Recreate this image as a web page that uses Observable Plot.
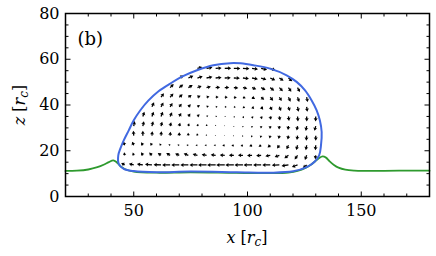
<!DOCTYPE html>
<html><head><meta charset="utf-8">
<script src="https://cdn.jsdelivr.net/npm/d3@7"></script>
<script src="https://cdn.jsdelivr.net/npm/@observablehq/plot@0.6"></script>
<style>body{margin:0;background:#fff} svg{display:block}</style>
</head><body><div id="chart"></div>
<script>
// Droplet outline (blue), closed curve
const outlineX = [43.4,43.2,44.1,45.6,47.8,50.0,52.9,56.5,60.9,66.1,71.9,77.8,85.0,92.4,97.0,102.6,109.9,117.2,121.6,125.3,128.2,130.4,131.8,132.6,132.3,131.5,129.6,126.0,120.1,109.9,95.3,74.8,60.2,50.0,45.6];
const outlineY = [14.3,18.0,20.9,24.5,28.9,33.3,37.7,42.0,46.0,49.4,52.7,55.2,57.4,58.3,58.2,57.4,55.9,53.0,50.1,46.4,42.0,37.7,33.3,28.2,22.3,18.0,15.3,12.8,11.0,10.4,10.6,10.9,10.6,11.1,12.1];
// Substrate profile (green)
const substrateX = [20,25,30,34,37,39,41,42.5,44,46,50,60,75,95,110,118,122,125.5,128,130,131.5,133,134.5,136,138,140,143,147,152,160,170,180];
const substrateY = [11.2,11.3,11.8,12.8,14.0,15.0,15.8,15.0,13.4,12.0,10.9,10.4,10.6,10.3,10.2,10.5,11.2,12.5,14.0,15.6,16.8,17.5,17.0,15.5,13.8,12.6,11.7,11.3,11.2,11.2,11.3,11.3];
// Velocity field grid
const colX = [46,50,54,58,62,66,70,74,78,82,86,90,94,98,102,106,110,114,118,122,126,130];
const rowY = [13.8,18.0,22.4,26.6,30.8,35.0,39.2,43.4,47.6,51.8,56.0];
const rowStart = [0,0,0,1,1,2,3,4,5,6,8];
// arrow direction (deg, counter-clockwise from +x) per row
const arrowAngles = [
  [150,165,172,175,178,180,180,180,180,180,180,180,180,180,180,180,180,182,188,200,220],
  [100,110,120,135,145,150,155,160,165,170,172,175,178,180,182,185,190,200,215,235,250,262],
  [110,115,120,125,135,150,165,175,180,180,182,185,190,195,200,210,220,235,245,255,260,265],
  [95,90,85,85,85,90,95,100,110,140,170,200,230,245,252,256,258,260,262,265,270],
  [80,78,76,75,75,75,75,75,80,90,120,-90,-95,-95,-95,-95,-95,-97,-100,-100,-105],
  [72,70,68,65,60,55,45,30,10,-10,-40,-60,-70,-75,-78,-80,-82,-85,-88,-92],
  [65,62,58,52,45,35,20,5,-5,-15,-30,-45,-55,-62,-68,-72,-78,-82],
  [55,50,42,35,25,15,5,-2,-10,-20,-30,-40,-50,-58,-65,-70,-78],
  [45,38,30,22,14,6,0,-5,-12,-20,-28,-38,-45,-55,-62],
  [30,25,18,12,6,2,-2,-6,-12,-18,-25,-32,-40],
  [15,10,5,2,0,-3,-8,-12,-20]
];
// arrow lengths (px) per row
const arrowLengths = [
  [4,5,6,7,7.5,8,8,8,8,8.5,8.5,8.5,8.5,8.5,8.5,8,8,7.5,7,6,5],
  [3,3,3.5,4,4,4.5,4.5,5,5,5,5,5,5,5,5,5,5,5,5,5,5,4],
  [4,4,3.5,3,2.5,2,2,2,2,2,2,2.5,2.5,2.5,3,3,3.5,4,4.5,5,5,5],
  [5,5,4.5,4.5,4,3.5,3,2.5,1.5,1,0.8,1,1.5,2,2.5,3,3.5,4,4.5,5,5],
  [5,5,5,4.5,4,3.5,3,2.5,2,1.2,0.8,1,1.5,2,2.5,3,3.5,4,4.5,5,5],
  [5,5,5,4.5,4,3.5,3,2,1.5,1.2,1.5,2,2.5,3,3.5,4,4.5,5,5,5],
  [5,5,4.5,4,3.5,3,2.5,2,2,2,2.5,3,3.5,4,4.5,4.5,5,5],
  [5,5,4.5,4,3.5,3,3,3,3,3,3.5,4,4.5,4.5,5,5,5],
  [5,5,5,4.5,4.5,4.5,4.5,4.5,4.5,4.5,5,5,5,5,5],
  [5,5.5,5.5,6,6,6,6,6,6,5.5,5.5,5,5],
  [5,6,6,6.5,6.5,6.5,6,6,5.5]
];
const xTickLabels = [50,100,150];
const yTickLabels = [0,20,40,60,80];
const xMinor = [20,30,40,60,70,80,90,110,120,130,140,160,170,180];
const yMinor = [5,10,15,25,30,35,45,50,55,65,70,75];

const outline = outlineX.map((x,i)=>({x, y: outlineY[i]}));
const substrate = substrateX.map((x,i)=>({x, y: substrateY[i]}));
const arrows = [];
rowY.forEach((y,j)=>{
  arrowAngles[j].forEach((a,k)=>{
    arrows.push({x: colX[rowStart[j]+k], y, rot: 90 - a, len: arrowLengths[j][k]});
  });
});

const quiverShape = {
  draw(ctx, l) {
    const w=0.65, hw=2.0, hl=3.3, hal=2.9;
    const s = l < hl*1.1 ? l/(hl*1.1) : 1;
    const W=w*Math.max(s,0.7), HW=hw*s, HL=hl*s, HAL=hal*s;
    ctx.moveTo(-W,0);
    ctx.lineTo(-W,-(l-HAL));
    ctx.lineTo(-HW,-(l-HL));
    ctx.lineTo(0,-l);
    ctx.lineTo(HW,-(l-HL));
    ctx.lineTo(W,-(l-HAL));
    ctx.lineTo(W,0);
    ctx.closePath();
  }
};
const tickShape = {draw(ctx,l){ctx.moveTo(0,0);ctx.lineTo(0,-l);}};
const tickOpts = {shape: tickShape, anchor:"start", stroke:"black", strokeWidth:1, strokeLinecap:"butt"};

const chart = Plot.plot({
  width: 436, height: 256,
  marginLeft: 65, marginRight: 7, marginTop: 13, marginBottom: 60,
  style: {fontFamily: "'DejaVu Serif', serif", fontSize: "16px", color: "black", background: "white"},
  x: {domain: [20,180]},
  y: {domain: [0,80]},
  length: {type: "identity"},
  marks: [
    Plot.vector(arrows, {x:"x", y:"y", length:"len", rotate:"rot", shape: quiverShape, anchor:"start", fill:"black", stroke:"none"}),
    Plot.line(substrate, {x:"x", y:"y", stroke:"#2e9a2e", strokeWidth:1.8, curve:"catmull-rom"}),
    Plot.line(outline, {x:"x", y:"y", stroke:"#4169e1", strokeWidth:2, curve:"catmull-rom-closed"}),
    Plot.frame({stroke:"black", strokeWidth:1.5}),
    // ticks (inward, all sides)
    Plot.vector(xTickLabels, {x:d=>d, frameAnchor:"bottom", length:5, rotate:0, ...tickOpts}),
    Plot.vector(xTickLabels, {x:d=>d, frameAnchor:"top", length:5, rotate:180, ...tickOpts}),
    Plot.vector(xMinor, {x:d=>d, frameAnchor:"bottom", length:3, rotate:0, ...tickOpts}),
    Plot.vector(xMinor, {x:d=>d, frameAnchor:"top", length:3, rotate:180, ...tickOpts}),
    Plot.vector(yTickLabels, {y:d=>d, frameAnchor:"left", length:5, rotate:90, ...tickOpts}),
    Plot.vector(yTickLabels, {y:d=>d, frameAnchor:"right", length:5, rotate:-90, ...tickOpts}),
    Plot.vector(yMinor, {y:d=>d, frameAnchor:"left", length:3, rotate:90, ...tickOpts}),
    Plot.vector(yMinor, {y:d=>d, frameAnchor:"right", length:3, rotate:-90, ...tickOpts}),
    Plot.axisX({ticks: xTickLabels, tickSize: 0, tickPadding: 8, label: null, fontSize: 16}),
    Plot.axisY({ticks: yTickLabels, tickSize: 0, tickPadding: 6, label: null, fontSize: 16}),
    Plot.text(["(b)"], {frameAnchor:"top-left", dx: 12, dy: 19, text: d=>d, fontSize: 18, textAnchor:"start", lineAnchor:"top"})
  ]
});
document.getElementById("chart").appendChild(chart);

// Axis labels with math-style italics and subscript
const svg = d3.select(chart);
const xl = svg.append("text").attr("x", 247).attr("y", 243).attr("text-anchor","middle")
  .attr("font-family","'DejaVu Serif', serif").attr("font-size",16).attr("fill","black");
xl.append("tspan").attr("font-style","italic").text("x");
xl.append("tspan").text(" [");
xl.append("tspan").attr("font-style","italic").text("r");
xl.append("tspan").attr("font-style","italic").attr("font-size",12).attr("dy",3).text("c");
xl.append("tspan").attr("dy",-3).text("]");
const yl = svg.append("text").attr("transform","translate(25,105) rotate(-90)").attr("text-anchor","middle")
  .attr("font-family","'DejaVu Serif', serif").attr("font-size",16).attr("fill","black");
yl.append("tspan").attr("font-style","italic").text("z");
yl.append("tspan").text(" [");
yl.append("tspan").attr("font-style","italic").text("r");
yl.append("tspan").attr("font-style","italic").attr("font-size",12).attr("dy",3).text("c");
yl.append("tspan").attr("dy",-3).text("]");
</script></body></html>
